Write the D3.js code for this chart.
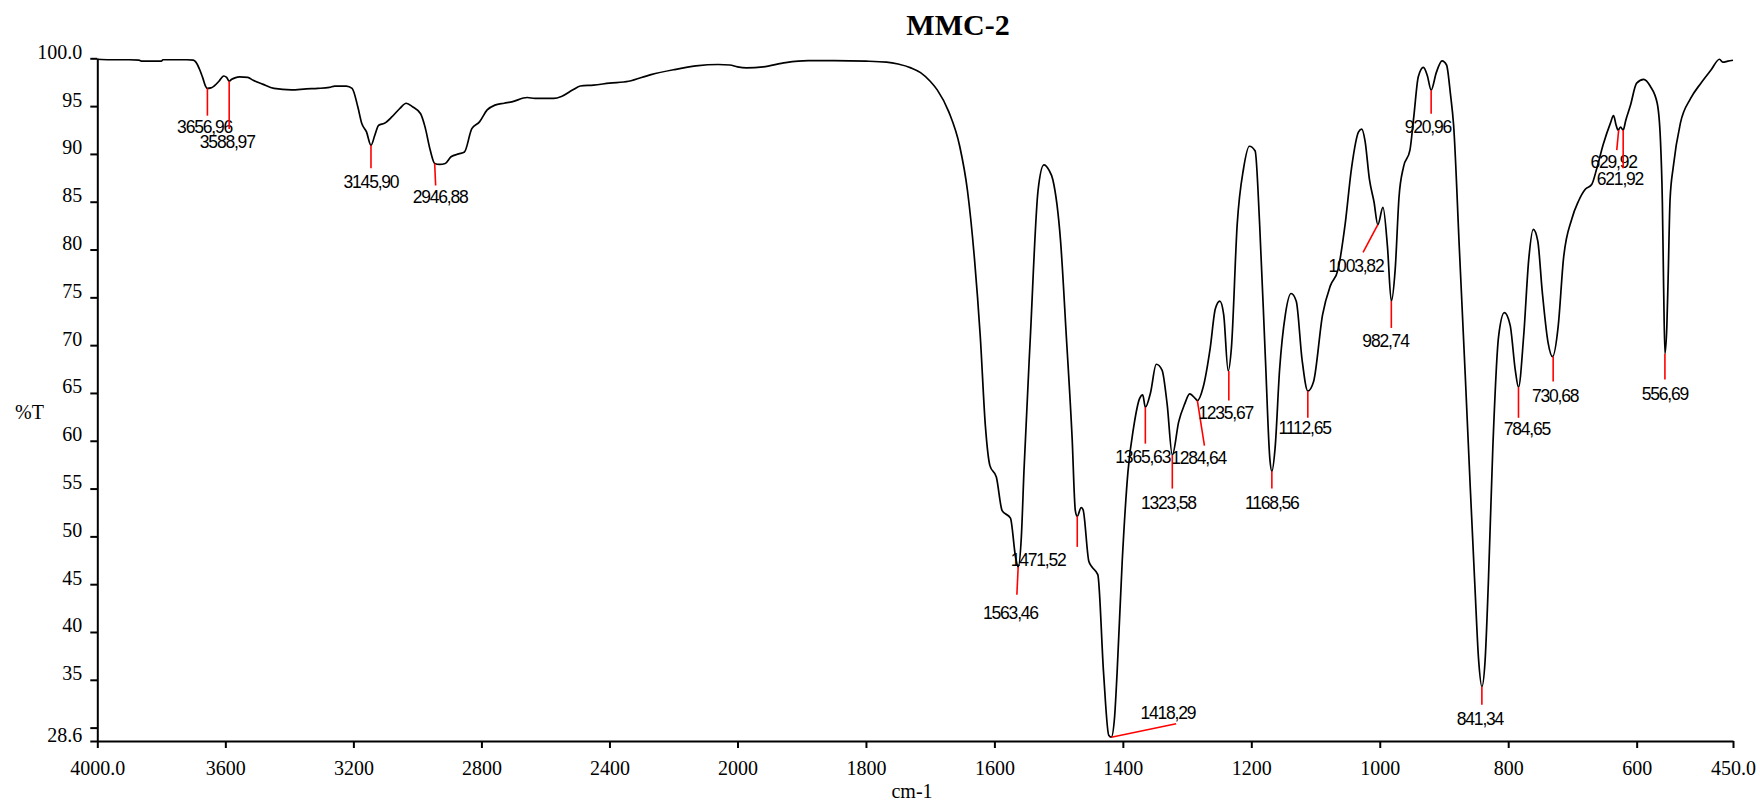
<!DOCTYPE html>
<html>
<head>
<meta charset="utf-8">
<script src="https://cdn.jsdelivr.net/npm/d3@7"></script>
<style>
  html, body { margin: 0; padding: 0; background: #fff; }
  svg { display: block; }
</style>
</head>
<body>
<div id="chart"></div>
<script>
// IR spectrum MMC-2 (wavenumber cm-1, %T)
const wavenumbers = [
  4000, 3960, 3900, 3870, 3860, 3800, 3795, 3720, 3700, 3692, 3680, 3670, 3662, 3656, 3645, 3635,
  3620, 3605, 3596, 3588, 3580, 3570, 3555, 3530, 3513, 3484, 3448, 3394, 3347, 3311, 3275, 3258,
  3222, 3204, 3186, 3174, 3159, 3145, 3133, 3121, 3103, 3079, 3055, 3035, 3014, 2990, 2976, 2960,
  2946, 2931, 2913, 2895, 2871, 2853, 2830, 2806, 2782, 2758, 2729, 2705, 2657, 2633, 2574, 2550,
  2514, 2491, 2450, 2400, 2340, 2270, 2200, 2130, 2060, 2024, 2000, 1986, 1960, 1925, 1890, 1850,
  1800, 1768, 1750, 1730, 1715, 1700, 1689, 1671, 1654, 1642, 1631, 1622, 1614, 1607, 1597, 1588,
  1575, 1567, 1563, 1558, 1554, 1544, 1532, 1523, 1515, 1509, 1497, 1488, 1479, 1474, 1471, 1465,
  1462, 1453, 1448, 1439, 1430, 1422, 1418, 1413, 1409, 1401, 1392, 1383, 1374, 1369, 1365, 1357,
  1348, 1339, 1331, 1323, 1313, 1304, 1296, 1287, 1284, 1275, 1264, 1256, 1249, 1243, 1236, 1231,
  1222, 1212, 1203, 1194, 1187, 1178, 1171, 1168, 1163, 1156, 1147, 1138, 1130, 1121, 1112, 1103,
  1089, 1077, 1065, 1054, 1044, 1033, 1028, 1023, 1016, 1009, 1003, 995, 988, 982, 976, 970,
  963, 953, 947, 940, 932, 926, 920, 912, 903, 896, 890, 885, 876, 867, 859, 852,
  846, 841, 836, 831, 824, 815, 806, 797, 789, 784, 776, 768, 761, 754, 747, 738,
  731, 722, 714, 701, 691, 680, 670, 662, 652, 641, 636, 632, 629, 625, 621, 617,
  610, 600, 589, 579, 568, 563, 560, 558, 556, 553, 551, 548, 543, 532, 516, 500,
  484, 471, 466, 458, 450
];
const transmittance = [
  99.9, 99.85, 99.85, 99.8, 99.7, 99.7, 99.85, 99.85, 99.8, 99.6, 98.8, 97.9, 97.1, 96.85, 96.9, 97.1,
  97.6, 98.15, 98.0, 97.6, 97.8, 97.95, 98.05, 98.0, 97.7, 97.3, 96.85, 96.7, 96.8, 96.85, 96.95, 97.1,
  97.1, 96.85, 94.9, 93.2, 92.3, 90.9, 91.95, 93.0, 93.2, 93.9, 94.75, 95.3, 94.9, 94.2, 92.8, 90.4,
  89.0, 88.9, 89.0, 89.7, 90.0, 90.2, 92.65, 93.35, 94.6, 95.1, 95.3, 95.45, 95.9, 95.8, 95.8, 96.0,
  96.7, 97.1, 97.2, 97.4, 97.6, 98.3, 98.8, 99.2, 99.35, 99.3, 99.1, 99.0, 99.1, 99.55, 99.75, 99.75,
  99.7, 99.6, 99.4, 99.0, 98.5, 97.6, 96.7, 94.4, 90.8, 86.2, 79.0, 70.9, 61.5, 57.4, 56.2, 52.7,
  51.9, 47.8, 46.8, 50.0, 56.8, 70.9, 86.2, 88.85, 88.3, 87.3, 80.9, 70.9, 60.3, 52.7, 52.1, 53.0,
  52.8, 47.4, 46.8, 46.0, 35.7, 29.2, 29.0, 31.0, 35.7, 47.4, 56.8, 61.5, 64.4, 64.8, 63.5, 65.0,
  68.0, 67.4, 63.8, 58.5, 62.0, 63.8, 64.9, 64.4, 64.2, 65.6, 69.7, 73.8, 74.6, 73.2, 67.3, 69.7,
  82.6, 88.5, 90.8, 90.3, 82.6, 68.5, 58.0, 56.8, 59.2, 67.4, 73.2, 75.4, 74.6, 68.5, 65.2, 66.2,
  73.2, 76.2, 77.9, 82.6, 88.5, 92.3, 92.6, 91.4, 87.3, 85.0, 82.6, 84.4, 80.3, 74.6, 77.9, 85.5,
  88.65, 90.4, 93.9, 98.07, 99.05, 98.2, 96.67, 98.5, 99.74, 99.3, 96.3, 93.0, 80.0, 67.0, 55.0, 45.0,
  37.0, 34.3, 37.0, 45.0, 59.2, 70.9, 73.4, 72.1, 67.4, 65.6, 70.9, 79.0, 82.1, 80.9, 75.6, 70.3,
  68.8, 72.1, 79.0, 83.2, 85.0, 86.3, 86.8, 88.5, 91.0, 93.2, 94.0, 93.0, 92.5, 92.8, 92.5, 93.5,
  95.0, 97.4, 97.8, 97.1, 95.3, 91.5, 85.0, 76.0, 69.1, 72.0, 77.0, 85.2, 88.65, 93.2, 95.8, 97.4,
  98.8, 99.9, 99.6, 99.7, 99.8
];

// peak annotations: curve point, end of red leader, text anchor
const peakText   = ['3656,96', '3588,97', '3145,90', '2946,88', '1563,46', '1471,52', '1418,29', '1365,63',
                    '1323,58', '1284,64', '1235,67', '1168,56', '1112,65', '1003,82', '982,74', '920,96',
                    '841,34', '784,65', '730,68', '629,92', '621,92', '556,69'];
const peakWn     = [3656, 3588, 3145, 2946, 1563, 1471, 1418, 1365, 1323, 1284, 1235, 1168, 1112, 1003, 982, 920, 841, 784, 730, 628, 621, 556];
const peakT      = [96.85, 97.6, 90.9, 89.0, 46.8, 52.1, 29.0, 63.5, 58.5, 64.2, 67.3, 56.8, 65.2, 82.6, 74.6, 96.67, 34.3, 65.6, 68.8, 92.5, 92.5, 69.1];
const leaderWn   = [3656, 3588, 3145, 2943, 1565, 1471, 1317, 1365, 1323, 1273, 1235, 1168, 1112, 1026, 982, 920, 841, 784, 730, 631, 621, 556];
const leaderT    = [94.0, 92.6, 88.5, 86.7, 43.9, 48.9, 30.4, 59.7, 55.0, 59.5, 64.2, 55.0, 62.4, 79.7, 71.8, 94.2, 32.4, 62.4, 66.2, 90.4, 88.5, 66.4];
const labelWn    = [3665, 3594, 3145, 2929, 1575, 1532, 1330, 1369, 1329, 1282, 1240, 1168, 1117, 1037, 991, 925, 844, 771, 727, 636, 626, 556];
const labelT     = [92.2, 90.6, 86.4, 84.9, 41.4, 46.95, 30.9, 57.7, 52.9, 57.6, 62.3, 52.9, 60.7, 77.6, 69.8, 92.2, 30.3, 60.6, 64.1, 88.5, 86.8, 64.3];

const xTicks = [4000, 3600, 3200, 2800, 2400, 2000, 1800, 1600, 1400, 1200, 1000, 800, 600, 450];
const xTickText = ['4000.0', '3600', '3200', '2800', '2400', '2000', '1800', '1600', '1400', '1200', '1000', '800', '600', '450.0'];
const yTicks = [100, 95, 90, 85, 80, 75, 70, 65, 60, 55, 50, 45, 40, 35, 30, 28.6];
const yTickText = ['100.0', '95', '90', '85', '80', '75', '70', '65', '60', '55', '50', '45', '40', '35', '', '28.6'];

const width = 1760, height = 803;
const serif = '"Liberation Serif", "Times New Roman", serif';
const sans = '"Liberation Sans", Arial, sans-serif';

const svg = d3.select('#chart').append('svg')
  .attr('width', width)
  .attr('height', height);

// 4000-2000 is compressed to half scale, like the instrument printout
const x = d3.scaleLinear().domain([4000, 2000, 450]).range([97.3, 737.5, 1733]);
const y = d3.scaleLinear().domain([28.6, 100]).range([741, 58.3]);

// title
svg.append('text')
  .attr('x', 958).attr('y', 35)
  .attr('text-anchor', 'middle')
  .attr('font-family', serif).attr('font-weight', 'bold').attr('font-size', 30)
  .text('MMC-2');

// x axis
const xAxis = d3.axisBottom(x)
  .tickValues(xTicks)
  .tickSize(7)
  .tickSizeOuter(0)
  .tickFormat((d, i) => xTickText[i]);

const gx = svg.append('g')
  .attr('transform', `translate(0,${y(28.6)})`)
  .call(xAxis);
gx.select('.domain').attr('stroke', '#000').attr('stroke-width', 2);
gx.selectAll('.tick line').attr('stroke', '#000').attr('stroke-width', 2);
gx.selectAll('.tick text')
  .attr('y', 34).attr('dy', 0)
  .attr('fill', '#000')
  .attr('font-family', serif).attr('font-size', 20);

// y axis
const yAxis = d3.axisLeft(y)
  .tickValues(yTicks)
  .tickSize(7)
  .tickSizeOuter(0)
  .tickFormat((d, i) => yTickText[i]);

const gy = svg.append('g')
  .attr('transform', `translate(${x(4000)},0)`)
  .call(yAxis);
gy.select('.domain').attr('stroke', '#000').attr('stroke-width', 2);
gy.selectAll('.tick line').attr('stroke', '#000').attr('stroke-width', 2);
gy.selectAll('.tick text')
  .attr('x', -15).attr('dy', 0)
  .attr('fill', '#000')
  .attr('font-family', serif).attr('font-size', 20);

// axis titles
svg.append('text')
  .attr('x', 15).attr('y', 419)
  .attr('font-family', serif).attr('font-size', 20)
  .text('%T');

svg.append('text')
  .attr('x', 912).attr('y', 798)
  .attr('text-anchor', 'middle')
  .attr('font-family', serif).attr('font-size', 20)
  .text('cm-1');

// spectrum
const points = wavenumbers.map((w, i) => [w, transmittance[i]]);
const line = d3.line()
  .x(d => x(d[0]))
  .y(d => y(d[1]))
  .curve(d3.curveMonotoneX);

svg.append('path')
  .datum(points)
  .attr('fill', 'none')
  .attr('stroke', '#000')
  .attr('stroke-width', 1.7)
  .attr('stroke-linejoin', 'round')
  .attr('d', line);

// peak leaders and labels
const ann = svg.append('g').attr('class', 'peaks');
peakText.forEach((t, i) => {
  ann.append('line')
    .attr('x1', x(peakWn[i])).attr('y1', y(peakT[i]))
    .attr('x2', x(leaderWn[i])).attr('y2', y(leaderT[i]))
    .attr('stroke', '#ff0000')
    .attr('stroke-width', 1.6);
  ann.append('text')
    .attr('x', x(labelWn[i])).attr('y', y(labelT[i]))
    .attr('text-anchor', 'middle')
    .attr('font-family', sans).attr('font-size', 17.5)
    .attr('letter-spacing', -1.2)
    .attr('fill', '#000')
    .text(t);
});
</script>
</body>
</html>
